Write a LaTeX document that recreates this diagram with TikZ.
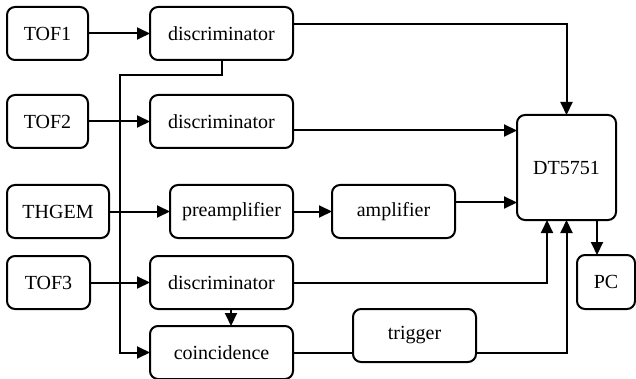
\documentclass[tikz,border=0pt]{standalone}
\usepackage{fontspec}
\setmainfont{Liberation Serif}
\usetikzlibrary{positioning,arrows.meta}

\begin{document}
\begin{tikzpicture}[
		box/.style={draw,rounded corners=4pt,line width=1pt,minimum height=26.5pt,inner sep=0pt,outer sep=0pt,font=\rmfamily\fontsize{10}{12}\selectfont},
		arr/.style={line width=1pt,-{Triangle[length=6.5pt,width=6pt]}},
		wire/.style={line width=1pt}]
		\useasboundingbox (0,0) rectangle (318pt,-189.5pt);
		\node [box,minimum width=40.5pt] (tof1) at (23.75pt,-16.75pt) {TOF1};
		\node [box,minimum width=71.5pt,right=31pt of tof1]                                (disc1) {discriminator};
		\node [box,minimum width=40.5pt,below=17.5pt of tof1]                              (tof2)  {TOF2};
		\node [box,minimum width=71.5pt,right=31pt of tof2]                                (disc2) {discriminator};
		\node [box,minimum width=51pt,below=18.5pt of tof2.south west,anchor=north west]   (thgem) {THGEM};
		\node [box,minimum width=61.5pt,right=30.5pt of thgem]                             (pre)   {preamplifier};
		\node [box,minimum width=61.5pt,right=19.5pt of pre]                               (amp)   {amplifier};
		\node [box,minimum width=41.5pt,below=9pt of thgem.south west,anchor=north west]   (tof3)  {TOF3};
		\node [box,minimum width=71.5pt,right=30pt of tof3]                                (disc3) {discriminator};
		\node [box,minimum width=71.5pt,below=8.5pt of disc3]                              (coinc) {coincidence};
		\node [box,minimum width=61.5pt,right=30pt of coinc,yshift=8.5pt]                  (trig)  {trigger};
		\node [box,minimum width=49.5pt,minimum height=52.5pt,right=31pt of amp,yshift=22pt] (dt)  {DT5751};
		\node [box,minimum width=29pt,minimum height=27pt,below=17.5pt of dt,xshift=19.75pt] (pc)   {PC};
		
		\coordinate (d1out) at ([yshift=4.75pt]disc1.east);
		\coordinate (d2out) at ([yshift=-4.5pt]disc2.east);
		\coordinate (aout)  at ([yshift=4.5pt]amp.east);
		\coordinate (d3in)  at ([xshift=-9.75pt]dt.south);
		\coordinate (dtout) at ([xshift=15.25pt]dt.south);
		\coordinate (tout)  at (coinc.east -| trig.east);
		
		\draw [arr] (tof1)--(disc1);
		\draw [arr] (tof2.east)--(tof2.east -| disc2.west);
		\draw [arr] (thgem)--(pre);
		\draw [arr] (pre)--(amp);
		\draw [arr] (tof3)--(disc3);
		\draw [arr] (d1out) -| (dt.north);
		\draw [arr] (d2out)--(d2out -| dt.west);
		\draw [arr] (aout)--(aout -| dt.west);
		\draw [arr] (disc3.east) -| (d3in);
		\draw [arr] ([xshift=4.75pt]disc3.south)--([xshift=4.75pt]coinc.north);
		\draw [wire] (coinc.east)--(coinc.east -| trig.west);
		\draw [arr] (tout) -| (dt.south);
		\draw [arr] (dtout)--(dtout |- pc.north);
		\draw [arr] (disc1.south)-- ++(0,-7.5pt) -| ([xshift=-15pt]coinc.west)--(coinc.west);
	\end{tikzpicture}
\end{document}
